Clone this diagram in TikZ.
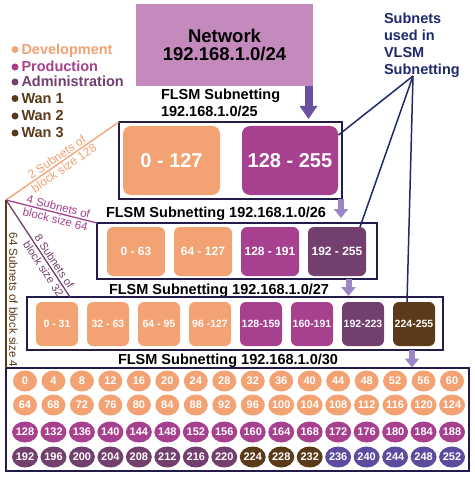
\documentclass[tikz,border=0pt]{standalone}
\usepackage{fontspec}
\setmainfont{Liberation Sans}
\usetikzlibrary{arrows.meta,shapes.geometric}
\definecolor{dev}{HTML}{F2A273}
\definecolor{prod}{HTML}{A7418F}
\definecolor{adm}{HTML}{733F6F}
\definecolor{wan}{HTML}{5A3A18}
\definecolor{vio}{HTML}{5C4B9E}
\definecolor{netc}{HTML}{C489BD}
\definecolor{navy}{HTML}{1E2A6B}
\definecolor{frame}{HTML}{231C4A}
\definecolor{bigarr}{HTML}{6B4FA0}
\definecolor{smallarr}{HTML}{9C87C6}
\begin{document}
\begin{tikzpicture}[x=1pt,y=-1pt,
  every node/.style={inner sep=0pt,outer sep=0pt},
  frm/.style={draw=frame,line width=1.3pt,anchor=north west},
  tile/.style={rounded corners=#1,anchor=north west,text=white},
  tile/.default=6pt,
  dotc/.style={ellipse,minimum width=24pt,minimum height=21pt,fill=#1,text=white,font=\fontsize{11}{11}\selectfont\bfseries},
  ttl/.style={anchor=base west,font=\fontsize{14.5}{14.5}\selectfont\bfseries},
  leg/.style={anchor=base west,text=#1,font=\fontsize{14.5}{14.5}\selectfont\bfseries},
  legdot/.style={circle,fill=#1,minimum size=7pt},
  vline/.style={draw=navy,line width=1.5pt},
  bigarrow/.style={draw=bigarr,line width=8pt,-{Triangle[width=17pt,length=13pt]}},
  smallarrow/.style={draw=smallarr,line width=6pt,-{Triangle[width=14pt,length=9pt]}},
  diag/.style={line width=1.3pt},
  dlab/.style={sloped,align=center,font=\fontsize{#1}{13}\selectfont},
]
\useasboundingbox[fill=white] (0,0) rectangle (474,481);

% network
\node[fill=netc,minimum width=177pt,minimum height=82pt,anchor=north west,align=center,
  font=\fontsize{18.5}{18.5}\selectfont\bfseries] (net) at (136,4) {Network\\192.168.1.0/24};

% legend
\foreach \n/\t/\c/\b in {1/Development/dev/54.5,2/Production/prod/72,3/Administration/adm/87,4/Wan 1/wan/103.5,5/Wan 2/wan/121,6/Wan 3/wan/138}{
  \node[legdot=\c] (ld\n) at (15,\b-5) {};
  \node[leg=\c] (lt\n) at (21.5,\b) {\t};
}

% VLSM label
\node[anchor=north west,align=left,text=navy,font=\fontsize{14.5}{17.3}\selectfont\bfseries] (vlsm) at (384,12.5) {Subnets\\used in\\VLSM\\Subnetting};

% /25
\node[ttl] (h25a) at (161,100) {FLSM Subnetting};
\node[ttl] (h25b) at (161,117) {192.168.1.0/25};
\node[frm,minimum width=223pt,minimum height=77pt] (b1) at (119,122) {};
\node[tile=8pt,fill=dev,minimum width=97pt,minimum height=69pt,font=\fontsize{20}{20}\selectfont\bfseries] (a0) at (123,126) {0 - 127};
\node[tile=8pt,fill=prod,minimum width=96pt,minimum height=69pt,font=\fontsize{20}{20}\selectfont\bfseries] (a1) at (242,126) {128 - 255};

% /26
\node[ttl] (h26) at (106,217) {FLSM Subnetting 192.168.1.0/26};
\node[frm,minimum width=280pt,minimum height=56pt] (b2) at (97,223) {};
\foreach \i/\t/\c in {0/0 - 63/dev,1/64 - 127/dev,2/128 - 191/prod,3/192 - 255/adm}
  \node[tile,fill=\c,minimum width=58pt,minimum height=49pt,font=\fontsize{12}{12}\selectfont\bfseries] (c\i) at (107+67*\i,227) {\t};

% /27
\node[ttl] (h27) at (109,294) {FLSM Subnetting 192.168.1.0/27};
\node[frm,minimum width=416pt,minimum height=53pt] (b3) at (27,297) {};
\foreach \i/\t/\c in {0/0 - 31/dev,1/32 - 63/dev,2/64 - 95/dev,3/96 -127/dev,4/128-159/prod,5/160-191/prod,6/192-223/adm,7/224-255/wan}
  \node[tile,fill=\c,minimum width=42pt,minimum height=44pt,font=\fontsize{10.5}{10.5}\selectfont\bfseries] (e\i) at (36+51*\i,302) {\t};

% /30
\node[ttl] (h30) at (118,364.5) {FLSM Subnetting 192.168.1.0/30};
\node[frm,minimum width=463pt,minimum height=103pt] (b4) at (6,368) {};
\foreach \r/\y in {0/381,1/405,2/432,3/457}{
  \foreach \c in {0,...,15}{
    \pgfmathtruncatemacro\v{64*\r+4*\c}
    \ifnum\r<2 \def\cc{dev}\else\ifnum\r=2 \def\cc{prod}\else\ifnum\c<8 \def\cc{adm}\else\ifnum\c<11 \def\cc{wan}\else\def\cc{vio}\fi\fi\fi\fi
    \node[dotc=\cc] (n\v) at (25+28.47*\c,\y) {\v};
  }
}

% arrows
\coordinate (ar0s) at (308.5,86); \coordinate (ar0e) at (308.5,119);
\draw[bigarrow] (ar0s) -- (ar0e);
\coordinate (ar1s) at (341,199); \coordinate (ar1e) at (341,218);
\draw[smallarrow] (ar1s) -- (ar1e);
\coordinate (ar2s) at (348.5,279); \coordinate (ar2e) at (348.5,296);
\draw[smallarrow] (ar2s) -- (ar2e);
\coordinate (ar3s) at (412,350); \coordinate (ar3e) at (412,367.5);
\draw[smallarrow] (ar3s) -- (ar3e);

% VLSM lines
\coordinate (vapex) at (413,76);
\coordinate (v1) at (338.5,135); \coordinate (v2) at (360,227); \coordinate (v3) at (407,302);
\draw[vline] (vapex) -- (v1);
\draw[vline] (vapex) -- (v2);
\draw[vline] (vapex) -- (v3);

% diagonals
\coordinate (hub) at (6,200);
\coordinate (d3) at (70,297);
\draw[diag,draw=dev] (hub) -- (b1.north west) node[dlab=12,text=dev,pos=0.48] {2 Subnets of\\block size 128};
\draw[diag,draw=prod] (hub) -- (b2.north west) node[dlab=11.5,text=prod,pos=0.56] {4 Subnets of\\block size 64};
\draw[diag,draw=adm] (hub) -- (d3) node[dlab=11,text=adm,pos=0.67] {8 Subnets of\\block size 32};
\draw[diag,draw=wan,line width=1.8pt] (hub) -- (b4.north west);
\node[rotate=-90,text=wan,font=\fontsize{11.5}{11.5}\selectfont] (lbl64) at (13.5,300) {64 Subnets of block size 4};
\end{tikzpicture}
\end{document}
